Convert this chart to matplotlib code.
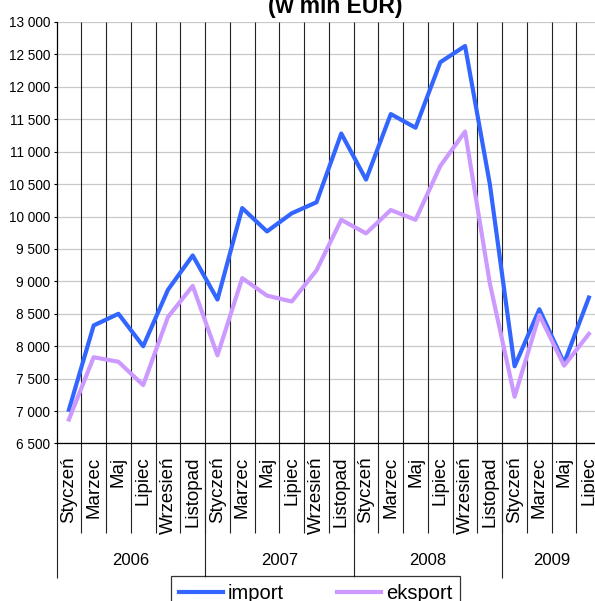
import matplotlib
matplotlib.use("Agg")
import matplotlib.pyplot as plt
from matplotlib.ticker import FuncFormatter, MultipleLocator
import numpy as np

# values (mln EUR), every second month
months = ["Styczeń", "Marzec", "Maj", "Lipiec", "Wrzesień", "Listopad"] * 3 + \
         ["Styczeń", "Marzec", "Maj", "Lipiec"]
years = ["2006", "2007", "2008", "2009"]
year_len = [6, 6, 6, 4]

imp = [7020, 8320, 8500, 8000, 8870, 9400,
       8720, 10130, 9770, 10050, 10220, 11280,
       10570, 11580, 11370, 12380, 12630, 10500,
       7690, 8570, 7740, 8750]
eks = [6870, 7830, 7760, 7400, 8450, 8930,
       7860, 9050, 8780, 8690, 9170, 9950,
       9740, 10100, 9950, 10780, 11310, 8970,
       7220, 8480, 7700, 8190]

FONT = ["Liberation Sans", "DejaVu Sans"]

fig = plt.figure(figsize=(5.95, 6.01), dpi=100)
ax = fig.add_axes([0.0950, 0.2621, 0.9155, 0.7013])

x = np.arange(len(months))
ax.plot(x, imp, color="#3366ff", lw=3, label="import", zorder=3)
ax.plot(x, eks, color="#cc99ff", lw=3, label="eksport", zorder=3)

ax.set_xlim(-0.5, len(months) - 0.5)
ax.set_ylim(6500, 13000)
ax.yaxis.set_major_locator(MultipleLocator(500))
ax.yaxis.set_major_formatter(FuncFormatter(lambda v, p: f"{int(v):,}".replace(",", " ")))
ax.grid(axis="y", color="#c8c8c8", lw=0.9)
ax.set_axisbelow(True)

for s in ["top", "right"]:
    ax.spines[s].set_visible(False)
ax.spines["left"].set_linewidth(0.9)
ax.spines["bottom"].set_linewidth(0.9)

ax.tick_params(axis="y", length=2.5, width=0.8, pad=2)
for lab in ax.get_yticklabels():
    lab.set_family(FONT)
    lab.set_fontsize(9.8)

ax.set_xticks(x)
ax.set_xticklabels(months, rotation=90, fontsize=13.5, family=FONT, va="top")
ax.tick_params(axis="x", length=0, pad=9.5)

# category boundaries: grid inside, separators below the axis
bounds = np.arange(0.5, len(months) - 0.5)
ax.vlines(bounds, 0, 1, transform=ax.get_xaxis_transform(), color="#222222", lw=0.8, zorder=1)
ax.vlines(bounds, -0.2123, 0, transform=ax.get_xaxis_transform(), color="#222222",
          lw=0.8, clip_on=False)
starts = np.concatenate([[0], np.cumsum(year_len)]) - 0.5
ax.vlines(starts, -0.319, 0, transform=ax.get_xaxis_transform(), color="#222222",
          lw=0.8, clip_on=False)
for i, yr in enumerate(years):
    ax.text((starts[i] + starts[i + 1]) / 2, -0.2788, yr, transform=ax.get_xaxis_transform(),
            ha="center", va="center", fontsize=12, family=FONT)

fig.text(335 / 595, 1 - 13.5 / 601, "(w mln EUR)", ha="center", va="baseline",
         fontsize=16.5, fontweight="bold", family=FONT)

leg = fig.legend(loc="upper left", bbox_to_anchor=(170.7 / 595, 1 - 575.7 / 601), ncol=2,
                 borderaxespad=0, frameon=True, fancybox=False, edgecolor="black",
                 borderpad=0.4, handlelength=2.2, handletextpad=0.25, columnspacing=2.6,
                 prop={"family": FONT, "size": 14.5})
leg.get_frame().set_linewidth(0.9)

fig.savefig("out.png", dpi=100)
